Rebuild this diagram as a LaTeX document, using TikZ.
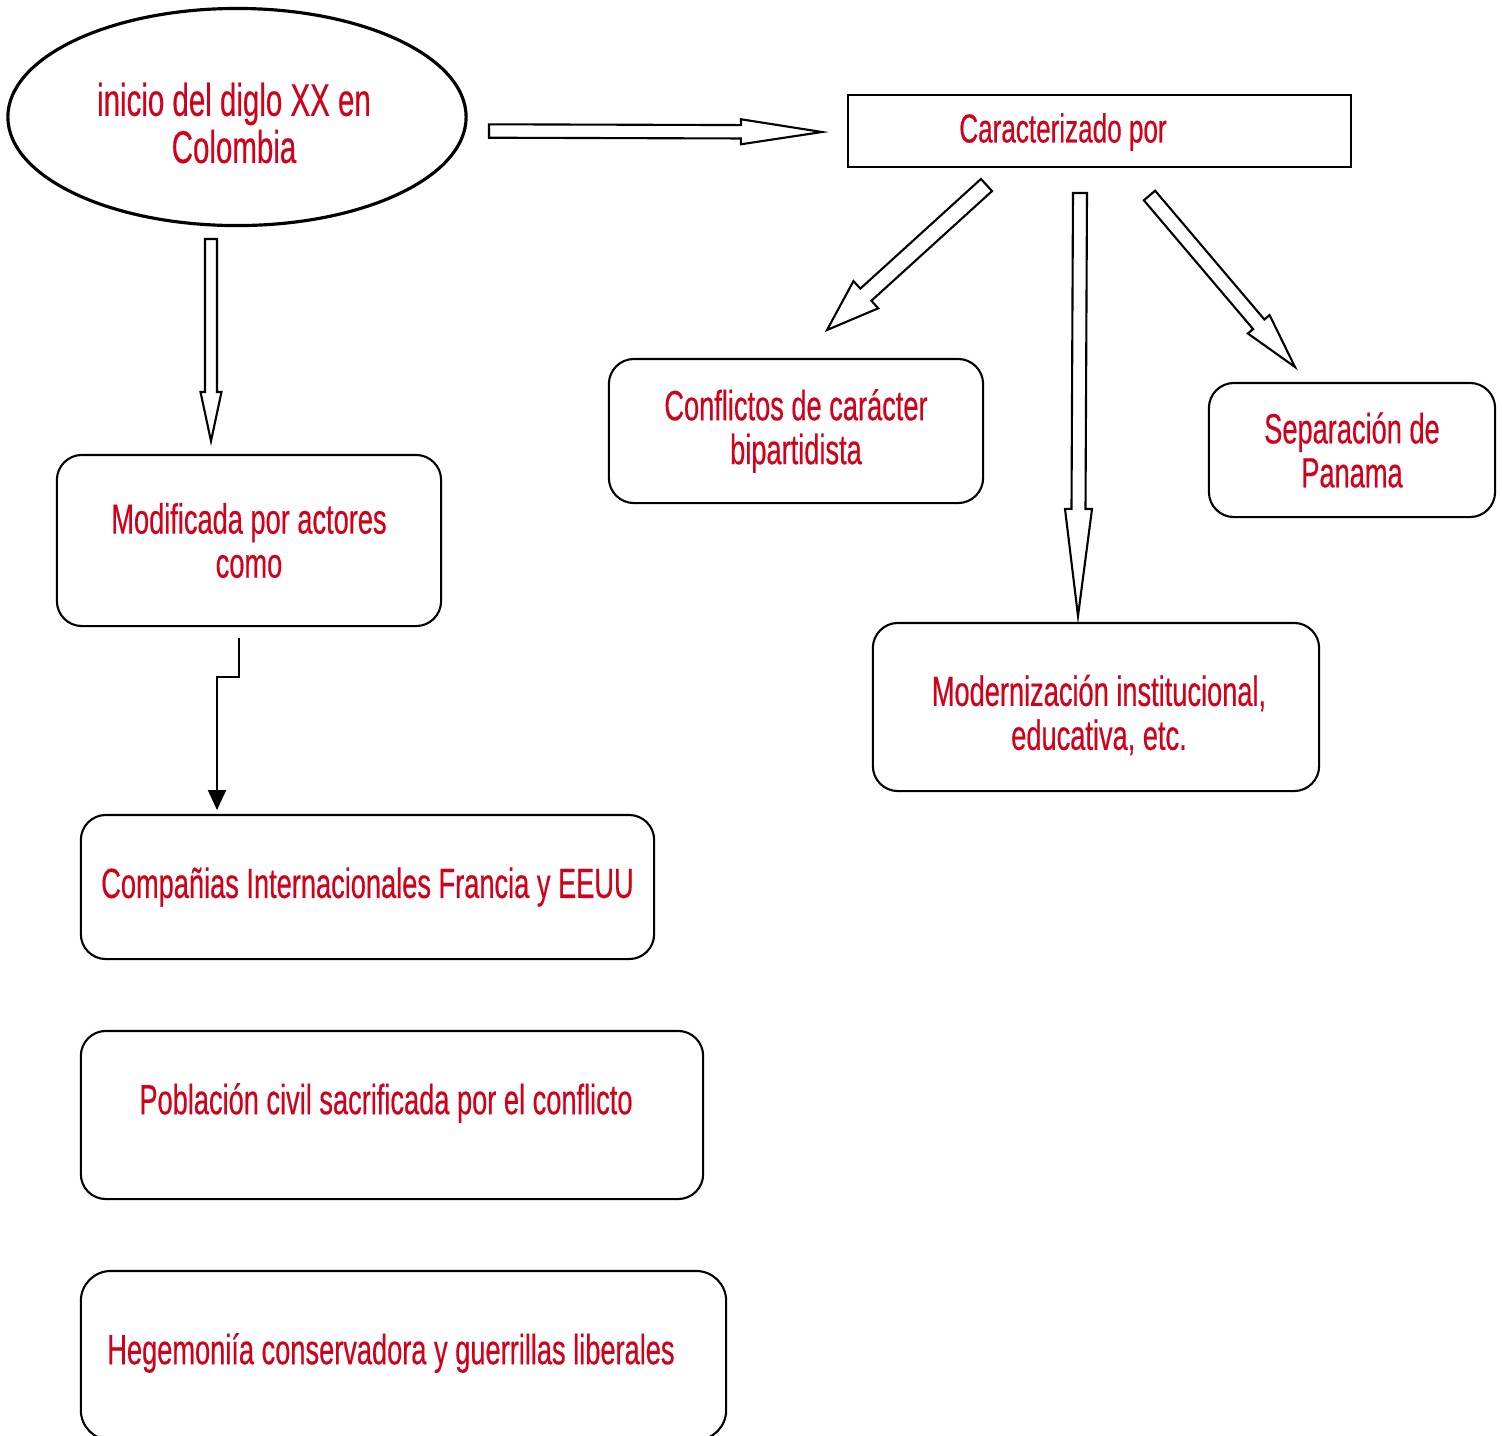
\documentclass[tikz,border=0pt]{standalone}
\usepackage{fontspec}
\setmainfont{Liberation Sans}[FakeStretch=0.645, FakeBold=0.4]
\usepackage{tikz}
\usetikzlibrary{arrows.meta,calc,shapes.geometric}
\definecolor{textred}{RGB}{208,2,27}
\tikzset{
	box/.style={draw, line width=0.6pt, rounded corners=0.25cm, align=center,
			text=textred, font=\fontsize{12}{12.5}\selectfont},
	txt/.style={align=center, text=textred, font=\fontsize{12}{12.5}\selectfont},
	hollow/.style={draw, line width=0.6pt, fill=white, line join=miter}
}
% hollow block arrow: tail, tip, shaft half width, head half width, head length
\newcommand{\blockarrow}[5]{%
	\path ($(#2)!#5!(#1)$) coordinate (headbase);
	\draw[hollow] ($(#1)!#3!90:(#2)$) -- ($(headbase)!#3!90:(#2)$)
		-- ($(headbase)!#4!90:(#2)$) -- (#2)
		-- ($(headbase)!#4!-90:(#2)$) -- ($(headbase)!#3!-90:(#2)$)
		-- ($(#1)!#3!-90:(#2)$) -- cycle;
}

\begin{document}
\begin{tikzpicture}[x=0.01cm, y=-0.01cm]
	\useasboundingbox (0,0) rectangle (1502,1435);
	% Main idea
	\node[ellipse, draw, line width=0.9pt, minimum width=4.58cm, minimum height=2.17cm,
		inner sep=0pt] (inicio) at (237,117) {};
	\node[txt, font=\fontsize{13}{13.4}\selectfont] (inicio text) at (234,123)
		{inicio del diglo XX en\\Colombia};
	\node[draw, line width=0.6pt, minimum width=5.03cm, minimum height=0.72cm] (caract) at (1099.5,131) {};
	\node[txt, font=\fontsize{11.5}{12}\selectfont] (caract text) at (1063,132) {Caracterizado por};
	% Characteristics
	\node[box, minimum width=3.74cm, minimum height=1.44cm] (conflictos) at (796,431)
		{Conflictos de carácter\\bipartidista};
	\node[box, minimum width=2.86cm, minimum height=1.34cm] (separacion) at (1352,450)
		{Separación de\\Panama};
	\node[box, minimum width=4.46cm, minimum height=1.68cm] (modern) at (1096,707) {};
	\node[txt] (modern text) at (1099,715) {Modernización institucional,\\educativa, etc.};
	% Actors
	\node[box, minimum width=3.84cm, minimum height=1.71cm] (modif) at (249,540.5)
		{Modificada por actores\\como};
	\node[box, minimum width=5.73cm, minimum height=1.44cm] (companias) at (367.5,887)
		{Compañias Internacionales Francia y EEUU};
	\node[box, minimum width=6.22cm, minimum height=1.68cm] (poblacion) at (392,1115) {};
	\node[txt] (poblacion text) at (386,1103) {Población civil sacrificada por el conflicto};
	\node[box, rounded corners=0.3cm, minimum width=6.45cm, minimum height=1.69cm] (hegemonia) at (403.5,1355.5) {};
	\node[txt] (hegemonia text) at (391,1353) {Hegemoniía conservadora y guerrillas liberales};
	% Block arrows
	\coordinate (r tail) at (489,131);
	\coordinate (r tip) at (822,132);
	\coordinate (d tail) at (211,239);
	\coordinate (d tip) at (211,441);
	\coordinate (c tail) at (986.5,185);
	\coordinate (c tip) at (827,330);
	\coordinate (m tail) at (1080,193);
	\coordinate (m tip) at (1078,616);
	\coordinate (s tail) at (1149.5,195.5);
	\coordinate (s tip) at (1295,367);
	\blockarrow{r tail}{r tip}{0.067cm}{0.125cm}{0.81cm}
	\blockarrow{d tail}{d tip}{0.06cm}{0.105cm}{0.49cm}
	\blockarrow{c tail}{c tip}{0.082cm}{0.184cm}{0.525cm}
	\blockarrow{m tail}{m tip}{0.07cm}{0.135cm}{1.07cm}
	\blockarrow{s tail}{s tip}{0.074cm}{0.142cm}{0.56cm}
	% Elbow connector
	\coordinate (elbow start) at (239,638);
	\coordinate (elbow end) at (217,810);
	\draw[line width=0.6pt, -{Triangle[length=0.2cm, width=0.18cm]}]
		(elbow start) -- (239,677) -- (217,677) -- (elbow end);
\end{tikzpicture}
\end{document}
